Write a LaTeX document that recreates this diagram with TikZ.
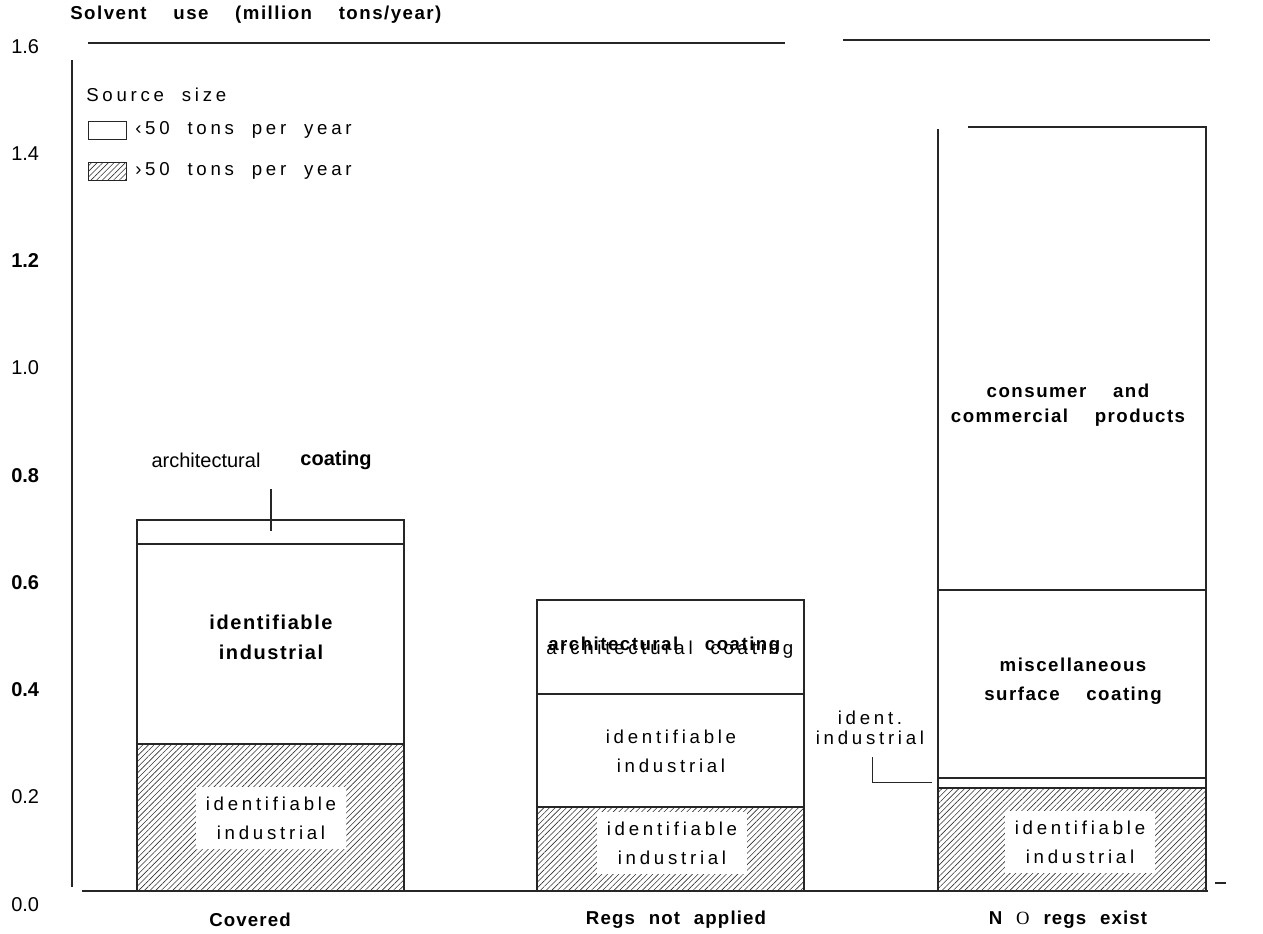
\documentclass[tikz,border=0pt]{standalone}
\usepackage{fontspec}
\setmainfont{Liberation Sans}
\newfontfamily\widesans[LetterSpace=20,WordSpace=2]{Liberation Sans}
\newfontfamily\headsans[LetterSpace=8,WordSpace=4]{Liberation Sans}
\newfontfamily\catsans[LetterSpace=6,WordSpace=2.2]{Liberation Sans}
\newfontfamily\serifface{Liberation Serif}
\usetikzlibrary{patterns.meta}

\begin{document}
\begin{tikzpicture}[
        x=0.75pt, y=-0.75pt,
        bar/.style={draw=black!85, line width=0.8pt},
        hatched/.style={bar, pattern={Lines[angle=45,distance=3pt,line width=0.45pt]}, pattern color=black!80},
        ticklbl/.style={anchor=west, inner sep=0pt},
        keytext/.style={anchor=west, inner sep=0pt, font=\fontsize{14}{16}\widesans},
        boldlbl/.style={align=center, inner sep=0pt, font=\fontsize{14}{22}\headsans\bfseries},
        widelbl/.style={align=center, inner sep=0pt, font=\fontsize{14}{22}\widesans},
        whitebox/.style={widelbl, fill=white, minimum width=113pt, minimum height=46pt},
        catlbl/.style={inner sep=0pt, font=\fontsize{14}{16}\catsans\bfseries}
    ]
    \useasboundingbox (0,0) rectangle (1263,933);

    % frame and axis
    \node[inner sep=0pt, anchor=west, font=\fontsize{14}{16}\headsans\bfseries] (title) at (70,15) {Solvent use (million tons/year)};
    \draw[bar] (88,43) -- (785,43);
    \draw[bar] (843,40) -- (1210,40);
    \draw[bar] (72,60) -- (72,887);
    \draw[bar] (82,891) -- (1208,891);
    \draw[bar] (1215,883) -- (1226,883);
    \foreach \val/\ypx/\wt [count=\k] in {1.6/47/\mdseries, 1.4/154/\mdseries, 1.2/261/\bfseries,
            1.0/368/\mdseries, 0.8/476/\bfseries, 0.6/583/\bfseries, 0.4/690/\bfseries,
            0.2/797/\mdseries, 0.0/905/\mdseries}
        \node[ticklbl, font=\fontsize{15}{17}\selectfont\wt] (tick\k) at (11,\ypx) {\val};

    % legend
    \node[keytext] (keyhead) at (86,95) {Source size};
    \draw[bar, line width=0.6pt] (88,121) rectangle (126,139);
    \draw[hatched, line width=0.6pt] (88,162) rectangle (126,180);
    \node[keytext] (keysmall) at (135,130) {‹50 tons per year};
    \node[keytext] (keylarge) at (135,171) {›50 tons per year};

    % covered
    \draw[bar] (137,520) rectangle (404,891);
    \draw[bar] (137,544) -- (404,544);
    \draw[hatched] (137,744) rectangle (404,891);
    \node[boldlbl, font=\fontsize{15}{22.5}\headsans\bfseries] (covind) at (271,637) {identifiable\\industrial};
    \node[whitebox] (covhatch) at (271,818) {identifiable\\industrial};
    \node[font=\fontsize{15}{17}\selectfont] (covarch) at (206,460) {architectural};
    \node[font=\fontsize{15}{17}\selectfont\bfseries] (covcoat) at (336,460) {coating};
    \coordinate (covtop) at (271,489);
    \coordinate (covtip) at (271,531);
    \draw[bar] (covtop) -- (covtip);

    % regs not applied
    \draw[bar] (537,600) rectangle (804,891);
    \draw[bar] (537,694) -- (804,694);
    \draw[hatched] (537,807) rectangle (804,891);
    \node[boldlbl, anchor=west] (regarchb) at (548,646) {architectural coating};
    \node[widelbl, anchor=west] (regarchn) at (546,650) {architectural coating};
    \node[widelbl] (regind) at (671,751) {identifiable\\industrial};
    \node[whitebox] (reghatch) at (672,843) {identifiable\\industrial};

    % no regs exist
    \draw[bar] (938,891) -- (938,129);
    \draw[bar] (968,127) -- (1206,127) -- (1206,891);
    \draw[bar] (938,590) -- (1206,590);
    \draw[bar] (938,778) -- (1206,778);
    \draw[hatched] (938,788) rectangle (1206,891);
    \node[boldlbl, font=\fontsize{14}{19}\headsans\bfseries] (nocons) at (1068,405) {consumer and\\commercial products};
    \node[boldlbl] (nomisc) at (1073,681) {miscellaneous\\surface coating};
    \node[whitebox] (nohatch) at (1080,842) {identifiable\\industrial};
    \node[widelbl, font=\fontsize{14}{15}\widesans] (noident) at (870,728) {ident.\\industrial};
    \coordinate (identtop) at (872,757);
    \coordinate (identtip) at (932,782);
    \draw[bar, line width=0.6pt] (identtop) |- (identtip);

    % categories
    \node[catlbl] (covered) at (250,920) {Covered};
    \node[catlbl] (regsnot) at (676,920) {Regs not applied};
    \node[catlbl] (noregs) at (1068,920) {N {\serifface\mdseries O} regs exist};
\end{tikzpicture}
\end{document}
